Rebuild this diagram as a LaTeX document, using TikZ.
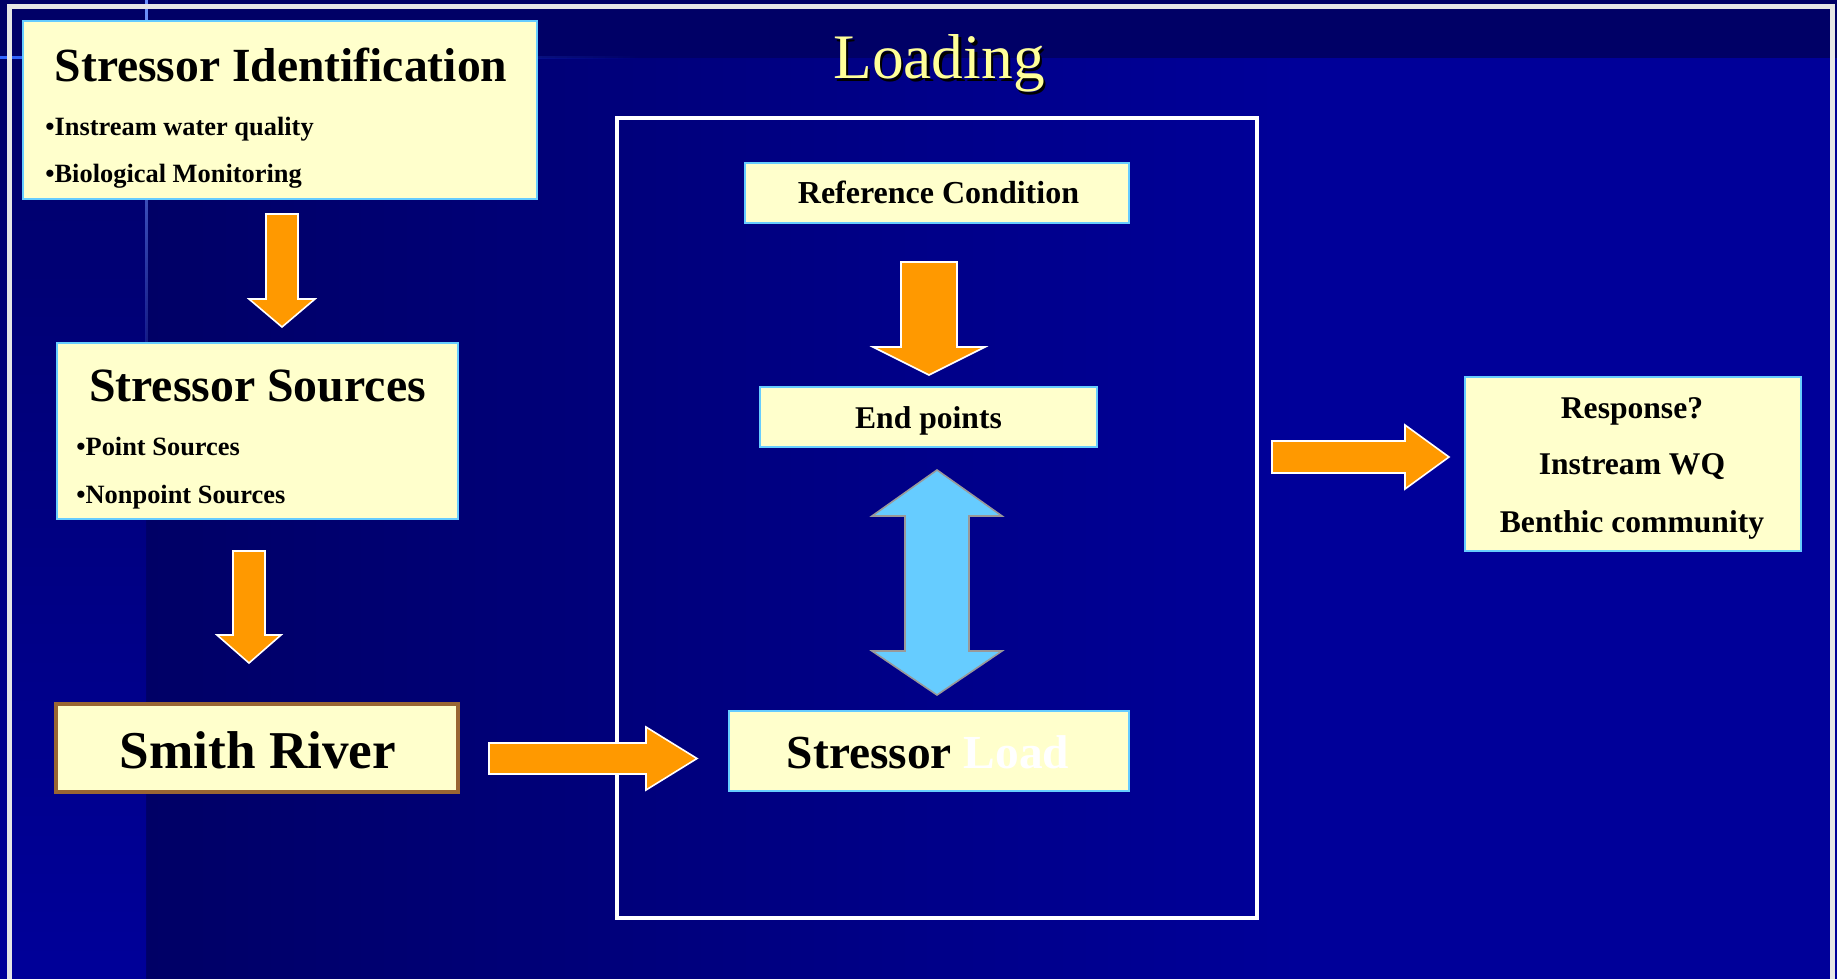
\documentclass[tikz,border=0pt]{standalone}
\usepackage{fontspec}
\setmainfont{Liberation Serif}
\usetikzlibrary{fadings}
\definecolor{bgdark}{HTML}{000066}
\definecolor{bglight}{HTML}{000099}
\definecolor{cream}{HTML}{FFFFCC}
\definecolor{skyb}{HTML}{66CCFF}
\definecolor{orangeA}{HTML}{FF9900}
\definecolor{brownB}{HTML}{996633}
\definecolor{titleY}{HTML}{FFFF99}
\definecolor{frameG}{HTML}{E6E6E6}
\definecolor{hlblue}{HTML}{3366FF}
\definecolor{dblue}{HTML}{66CCFF}
\definecolor{dgray}{HTML}{999999}
\newcommand\blkdown[7]{%
  \draw[#1] (#2-#4,#3) -- (#2+#4,#3) -- (#2+#4,#5) -- (#2+#6,#5) -- (#2,#7) -- (#2-#6,#5) -- (#2-#4,#5) -- cycle;}
\newcommand\blkright[7]{%
  \draw[#1] (#3,#2-#4) -- (#5,#2-#4) -- (#5,#2-#6) -- (#7,#2) -- (#5,#2+#6) -- (#5,#2+#4) -- (#3,#2+#4) -- cycle;}
\tikzset{
  box/.style={rectangle, draw=skyb, line width=1.2pt, fill=cream, inner sep=0pt},
  riverbox/.style={rectangle, draw=brownB, line width=1.8pt, fill=cream, inner sep=0pt},
  txt/.style={inner sep=0pt, anchor=base, text=black, font=\bfseries},
  bul/.style={inner sep=0pt, anchor=base west, text=black, font=\bfseries\fontsize{13.2}{15}\selectfont},
  orangearrow/.style={fill=orangeA, draw=white, line width=0.8pt, line join=miter},
  bluearrow/.style={fill=dblue, draw=dgray, line width=0.8pt, line join=miter},
}
\begin{document}
\begin{tikzpicture}[x=0.5pt,y=-0.5pt]
% background
\useasboundingbox (0,0) rectangle (1837,979);
\fill[bglight] (0,0) rectangle (1837,979);
\shade[left color=bgdark, right color=bglight] (146,58) rectangle (1300,979);
\fill[bgdark] (146,0) rectangle (1837,58);
\shade[top color=bgdark, bottom color=bglight] (0,0) rectangle (146,979);
\fill[hlblue, path fading=east] (0,56.5) rectangle (640,59.5);
\fill[hlblue!70!white, path fading=south] (144.5,0) rectangle (147.5,420);
% outer frame
\draw[frameG, line width=2.5pt] (9,995) -- (9,7) -- (1832,7) -- (1832,995);
% title
\node[inner sep=0pt, anchor=base west, text=black, font=\fontsize{31.7}{36}\selectfont] (titleshadow) at (835.5,81.5) {Loading};
\node[inner sep=0pt, anchor=base west, text=titleY, font=\fontsize{31.7}{36}\selectfont] (title) at (833,79) {Loading};
% central frame
\node[rectangle, draw=white, line width=1.75pt, minimum width=320pt, minimum height=400pt, inner sep=0pt] (frame) at (937,518) {};
% left column boxes
\node[box, minimum width=257pt, minimum height=89pt] (si) at (280,110) {};
\node[txt, font=\bfseries\fontsize{23.8}{28}\selectfont] (si-title) at (281,82) {Stressor Identification};
\node[bul] (si-b1) at (45,135) {•Instream water quality};
\node[bul] (si-b2) at (45,183) {•Biological Monitoring};

\node[box, minimum width=200.5pt, minimum height=88pt] (ss) at (257.5,431) {};
\node[txt, font=\bfseries\fontsize{23.9}{28}\selectfont] (ss-title) at (257.5,401) {Stressor Sources};
\node[bul] (ss-b1) at (76,455) {•Point Sources};
\node[bul] (ss-b2) at (76,503) {•Nonpoint Sources};

\node[riverbox, minimum width=201pt, minimum height=44pt] (sr) at (257,748) {};
\node[txt, font=\bfseries\fontsize{26.6}{30}\selectfont] (sr-text) at (258,768) {Smith River};

% central boxes
\node[box, minimum width=192pt, minimum height=30pt] (rc) at (937,193) {};
\node[txt, font=\bfseries\fontsize{16}{19}\selectfont] (rc-text) at (938.5,204) {Reference Condition};

\node[box, minimum width=168.5pt, minimum height=30pt] (ep) at (928.5,417) {};
\node[txt, font=\bfseries\fontsize{15.8}{19}\selectfont] (ep-text) at (928.5,428) {End points};

\node[box, minimum width=200pt, minimum height=40pt] (sl) at (929,751) {};
\node[txt, font=\bfseries\fontsize{23.7}{28}\selectfont] (sl-text) at (928,768) {Stressor \textcolor{white}{Load}};

% response box
\node[box, minimum width=168pt, minimum height=87pt] (rs) at (1633,464) {};
\node[txt, font=\bfseries\fontsize{15.8}{19}\selectfont] (rs-1) at (1632,418) {Response?};
\node[txt, font=\bfseries\fontsize{15.8}{19}\selectfont] (rs-2) at (1632,474) {Instream WQ};
\node[txt, font=\bfseries\fontsize{15.8}{19}\selectfont] (rs-3) at (1632,532) {Benthic community};

% block arrows
\blkdown{orangearrow}{282}{214}{16}{299}{33}{327}
\blkdown{orangearrow}{249}{551}{16}{635}{32}{663}
\blkright{orangearrow}{758.5}{489}{15.5}{646}{31.5}{697}
\blkdown{orangearrow}{929}{262}{28}{347}{56}{375}
\blkright{orangearrow}{457}{1272}{16}{1405}{32}{1449}
% double arrow
\draw[bluearrow] (937,470) -- (1002,516) -- (969,516) -- (969,651) -- (1002,651) -- (937,695) -- (872,651) -- (905,651) -- (905,516) -- (872,516) -- cycle;
\end{tikzpicture}
\end{document}
